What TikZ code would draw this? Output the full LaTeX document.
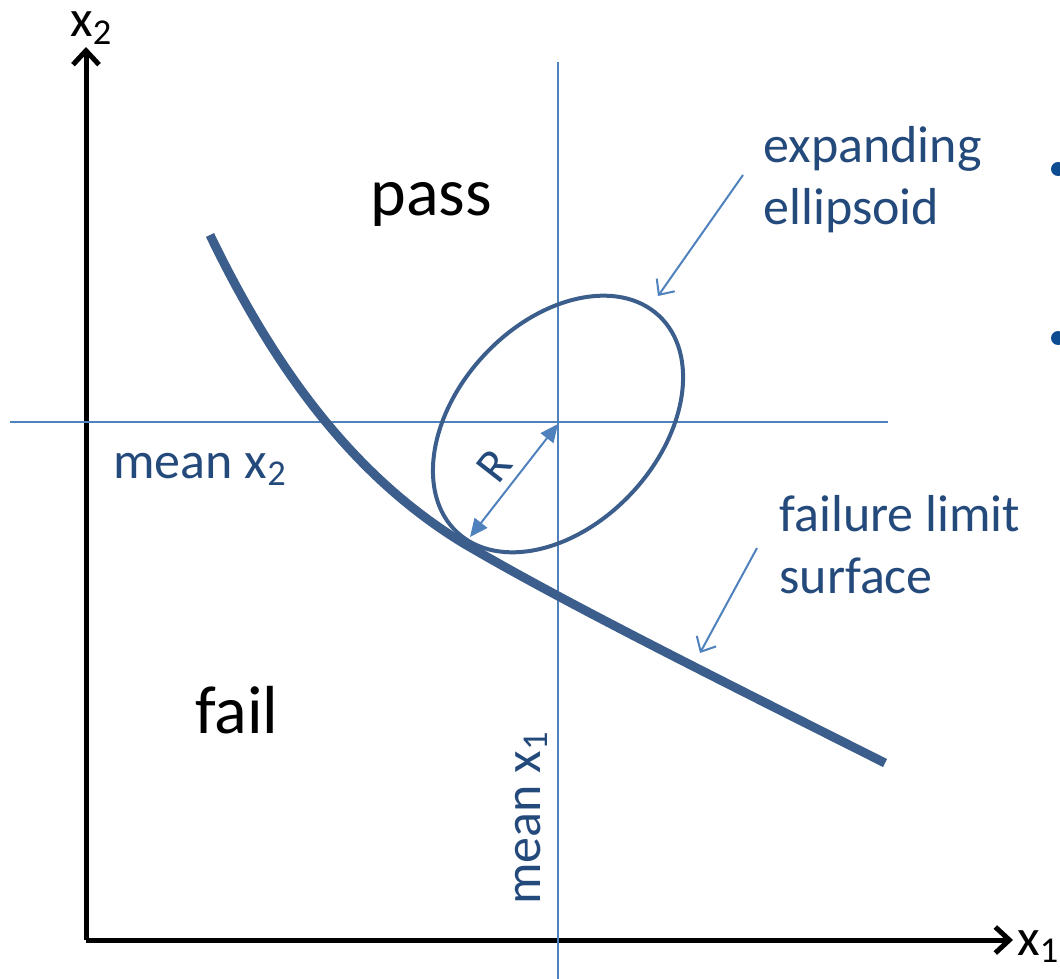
\documentclass[tikz,border=0pt]{standalone}
\usepackage{fontspec}
\setmainfont{Carlito}
\usepackage{xcolor}
\usepackage{tikz}
\usetikzlibrary{arrows.meta,positioning,calc}
\definecolor{limitblue}{HTML}{3B5E8C}
\definecolor{guideblue}{HTML}{4F81BD}
\definecolor{labelblue}{HTML}{244A7C}
\definecolor{bulletblue}{HTML}{0E4C92}

\begin{document}
\begin{tikzpicture}[
    x=0.5pt,y=-0.5pt,
    axe/.style     = {black, line width=2.5pt,
                      -{Straight Barb[length=7pt,width=13pt]}},
    guide/.style   = {guideblue, line width=1pt},
    limite/.style  = {limitblue, line width=4.5pt},
    ellip/.style   = {limitblue, line width=2pt},
    fleche/.style  = {guideblue, line width=1pt,
                      -{Straight Barb[length=6pt,width=11pt]}},
    rayon/.style   = {guideblue, line width=1pt,
                      {Triangle[length=9pt,width=8pt]}-{Triangle[length=9pt,width=8pt]}},
    grand/.style   = {font=\fontsize{34}{40}\selectfont, text=black, inner sep=0pt},
    lab/.style     = {font=\fontsize{26}{31}\selectfont, text=labelblue,
                      inner sep=0pt, align=left},
    axlab/.style   = {font=\fontsize{26}{31}\selectfont, text=black, inner sep=0pt},
  ]

  \clip (0,0) rectangle (1060,979);
  \useasboundingbox (0,0) rectangle (1060,979);

  % axes
  \coordinate (O)   at (86,940);
  \coordinate (top) at (86,47);
  \coordinate (rgt) at (1013,940);
  \draw[axe] (O) -- (top);
  \draw[axe] (O) -- (rgt);
  \node[axlab,anchor=base west] (x2) at (70,37)   {x\textsubscript{2}};
  \node[axlab,anchor=base west] (x1) at (1017,955) {x\textsubscript{1}};

  % mean lines
  \coordinate (hl) at (10,422);
  \coordinate (hr) at (888,422);
  \coordinate (vt) at (558,62);
  \coordinate (vb) at (558,979);
  \draw[guide] (hl) -- (hr);
  \draw[guide] (vt) -- (vb);

  % ellipsoid and limit surface
  \coordinate (ctr) at (558,424);
  \coordinate (ls0) at (210,235);
  \coordinate (ls1) at (463,543);
  \coordinate (ls2) at (885,763);
  \draw[ellip,rotate around={47:(ctr)}] (ctr) ellipse (148 and 101);
  \draw[limite] (ls0) .. controls (280,380) and (360,480) .. (ls1)
                      .. controls (560,600) and (700,670) .. (ls2);

  \coordinate (tan) at (470,537);
  \draw[rayon] (tan) -- node[sloped,above=4pt,font=\fontsize{24}{28}\selectfont,
                             text=labelblue,inner sep=0pt] (R) {R} (ctr);

  % texts
  \node[grand,anchor=base west] (pass) at (370,215) {pass};
  \node[grand,anchor=base west] (fail) at (195,733) {fail};
  \node[lab,anchor=base west] (m2) at (113,478) {mean x\textsubscript{2}};
  \node[lab,anchor=base west,rotate=90] (m1) at (540,905) {mean x\textsubscript{1}};
  \node[lab,anchor=base west] (ell) at (763,224) {expanding\\ellipsoid};
  \node[lab,anchor=base west] (fls) at (779,593) {failure limit\\surface};

  % pointers
  \coordinate (ellfrom) at (743,175);
  \coordinate (ellto)   at (658,296);
  \coordinate (flsfrom) at (757,548);
  \coordinate (flsto)   at (700,653);
  \draw[fleche] (ellfrom) -- (ellto);
  \draw[fleche] (flsfrom) -- (flsto);

  % bullets cut by the border
  \fill[bulletblue] (1058,169) circle (7);
  \fill[bulletblue] (1058,338) circle (7);

\end{tikzpicture}
\end{document}
